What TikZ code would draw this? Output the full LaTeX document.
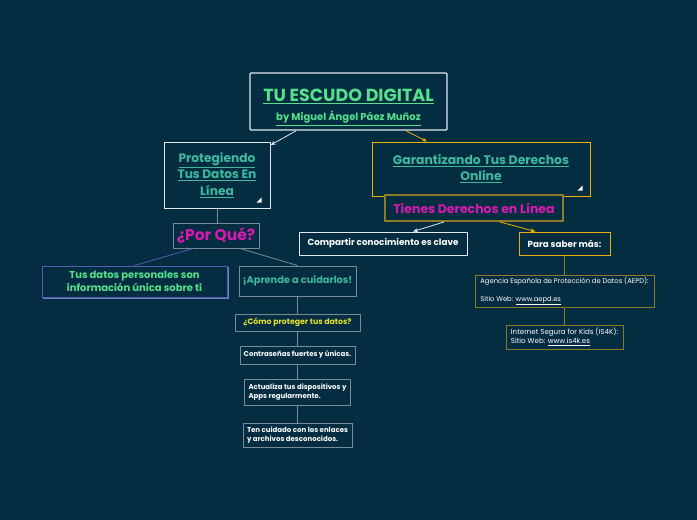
\documentclass[tikz,border=0pt]{standalone}
\usepackage{fontspec}
\setmainfont{Poppins}
\usetikzlibrary{positioning, arrows.meta, shadows}

\definecolor{bgnavy}{RGB}{4,45,66}
\definecolor{titlegreen}{RGB}{86,224,140}
\definecolor{tealtext}{RGB}{62,184,158}
\definecolor{magentatext}{RGB}{214,26,176}
\definecolor{yellowtext}{RGB}{230,226,40}
\definecolor{goldline}{RGB}{236,176,0}
\definecolor{oliveline}{RGB}{140,122,40}
\definecolor{greyline}{RGB}{118,140,152}
\definecolor{blueline}{RGB}{82,92,176}
\definecolor{paleline}{RGB}{225,232,238}

\begin{document}
\begin{tikzpicture}[x=1pt, y=-1pt,
  box/.style={draw, line width=1pt, fill=bgnavy, inner sep=1pt, align=center},
  greybox/.style={box, draw=greyline},
  smalltxt/.style={text=white, font=\fontsize{7}{8.8}\selectfont\bfseries},
  link/.style={line width=0.8pt, draw=greyline}
]

\useasboundingbox[fill=bgnavy] (0,0) rectangle (697,520);

% main topic
\node[box, draw=paleline, line width=1.4pt, rounded corners=1pt, minimum width=197pt, minimum height=57pt, text=titlegreen] (title) at (348.5,101.5)
  {\rule{0pt}{24pt}\fontsize{17.5}{19}\selectfont\bfseries\underline{TU ESCUDO DIGITAL}\\[7pt]
   \fontsize{10}{11}\selectfont\bfseries\underline{by Miguel Ángel Páez Muñoz}};

% left branch
\node[box, draw=paleline, minimum width=106pt, minimum height=66pt, text=tealtext, font=\fontsize{12.2}{16.5}\selectfont\bfseries] (prot) at (217,175)
  {\underline{Protegiendo}\\\underline{Tus Datos En}\\\underline{Línea}};
\node[greybox, minimum width=86pt, minimum height=25pt, text=magentatext, font=\fontsize{15.5}{17}\selectfont\bfseries] (porque) at (216,235.5) {¿Por Qué?};
\node[box, draw=blueline, minimum width=185pt, minimum height=31pt, text=titlegreen, font=\fontsize{10}{12.5}\selectfont\bfseries,
  copy shadow={shadow xshift=1.6pt, shadow yshift=-1.6pt, draw=blueline!80!white, fill=blueline!80!white}] (tusdatos) at (134.5,281.5)
  {Tus datos personales son\\información única sobre ti};
\node[greybox, minimum width=117pt, minimum height=30pt, text=tealtext, font=\fontsize{9.8}{11}\selectfont\bfseries] (aprende) at (297.5,281) {¡Aprende a cuidarlos!};
\node[greybox, minimum width=125pt, minimum height=17pt, text=yellowtext, font=\fontsize{7.8}{9}\selectfont\bfseries] (como) at (297.5,322.5) {¿Cómo proteger tus datos?};
\node[greybox, smalltxt, minimum width=115pt, minimum height=18pt] (claves) at (297.5,355) {Contraseñas fuertes y únicas.};
\node[greybox, smalltxt, minimum width=106pt, minimum height=26pt, align=left] (actualiza) at (297.5,392) {Actualiza tus dispositivos y\\Apps regularmente.};
\node[greybox, smalltxt, minimum width=109pt, minimum height=24pt, align=left] (enlaces) at (297.5,435) {Ten cuidado con los enlaces\\y archivos desconocidos.};

% right branch
\node[box, draw=goldline, minimum width=218pt, minimum height=54pt, text=tealtext, font=\fontsize{12.4}{16}\selectfont\bfseries] (garant) at (481,169)
  {\underline{Garantizando Tus Derechos}\\\underline{Online}};
\node[box, draw=oliveline, line width=2pt, minimum width=178pt, minimum height=26pt, text=magentatext, font=\fontsize{12.5}{14}\selectfont\bfseries] (tienes) at (474,208) {Tienes Derechos en Línea};
\node[box, draw=paleline, minimum width=168pt, minimum height=23pt, text=white, font=\fontsize{8.8}{10}\selectfont\bfseries] (compartir) at (383,243.5) {Compartir conocimiento es clave};
\node[box, draw=goldline, minimum width=91pt, minimum height=23pt, text=white, font=\fontsize{8.8}{10}\selectfont\bfseries] (saber) at (564.5,243.5) {Para saber más:};
\node[box, draw=oliveline, minimum width=179pt, minimum height=32pt, align=left, text=white, font=\fontsize{6.8}{9}\selectfont] (aepd) at (564.5,291)
  {Agencia Española de Protección de Datos (AEPD):\\[9pt]Sitio Web: \underline{www.aepd.es}};
\node[box, draw=oliveline, minimum width=117pt, minimum height=24pt, align=left, text=white, font=\fontsize{7.1}{9}\selectfont] (is4k) at (564.5,337)
  {Internet Segura for Kids (IS4K):\\Sitio Web: \underline{www.is4k.es}};

% connectors
\draw[draw=paleline, line width=0.8pt, -{Stealth[length=5pt, width=4pt]}] (title) -- (prot);
\draw[draw=goldline, line width=0.8pt, -{Stealth[length=5pt, width=4pt]}] (title) -- (garant);
\draw[link] (prot.south) -- (prot.south |- porque.north);
\draw[link, draw=blueline] ([xshift=-23pt]porque.south) -- (tusdatos.north);
\draw[link] ([xshift=24pt]porque.south) -- (aprende.north);
\draw[link] (aprende) -- (como);
\draw[link] (como) -- (claves);
\draw[link] (claves) -- (actualiza);
\draw[link] (actualiza) -- (enlaces);
\draw[draw=paleline, line width=0.8pt, -{Stealth[length=5pt, width=4pt]}] ([xshift=-30pt]tienes.south) -- ([xshift=30pt]compartir.north);
\draw[draw=goldline, line width=0.8pt, -{Stealth[length=5pt, width=4pt]}] ([xshift=26pt]tienes.south) -- ([xshift=-29pt]saber.north);
\draw[link, draw=oliveline] (saber) -- (aepd);
\draw[link, draw=oliveline] (aepd) -- (is4k);

% fold marks
\fill[white] ([shift={(-9,-6)}]prot.south east) -- ++(-5,0) -- ++(5,-5) -- cycle;
\fill[white] ([shift={(-8,-6)}]garant.south east) -- ++(-5,0) -- ++(5,-5) -- cycle;

\end{tikzpicture}
\end{document}
